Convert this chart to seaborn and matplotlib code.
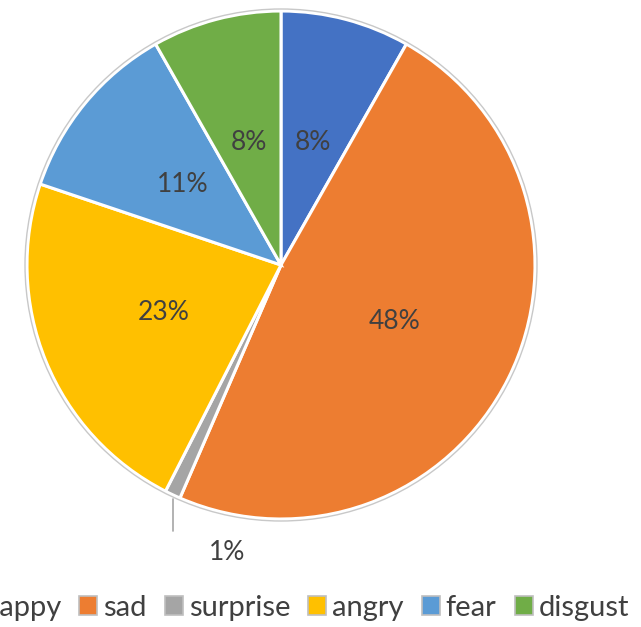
import matplotlib.pyplot as plt
import matplotlib.patches as mpatches
import seaborn as sns
import numpy as np

# emotion shares (percent)
emotions = ['happy', 'sad', 'surprise', 'angry', 'fear', 'disgust']
shares = [8.2, 48.2, 1.0, 22.6, 11.6, 8.2]
pct_labels = ['8%', '48%', '1%', '23%', '11%', '8%']
colors = ['#4472C4', '#ED7D31', '#A5A5A5', '#FFC000', '#5B9BD5', '#70AD47']

sns.set_theme(style='white')
plt.rcParams['font.family'] = ['Lato', 'DejaVu Sans']
text_color = '#404040'

W, H = 641, 627
fig = plt.figure(figsize=(W / 100, H / 100), dpi=100)
ax = fig.add_axes([0, 0, 1, 1])

cx, cy, R = 281, H - 265, 254
palette = sns.color_palette(colors)

wedges, _ = ax.pie(shares, colors=palette, startangle=90, counterclock=False,
                   center=(cx, cy), radius=R,
                   wedgeprops=dict(edgecolor='white', linewidth=2.2))
ax.set_xlim(0, W)
ax.set_ylim(0, H)
ax.set_aspect('equal')
ax.axis('off')

# thin grey outline round the pie
ax.add_patch(mpatches.Circle((cx, cy), R + 2, fill=False, edgecolor='#C8C8C8', linewidth=1))

# percentage labels
for w, lab in zip(wedges, pct_labels):
    mid = np.deg2rad((w.theta1 + w.theta2) / 2)
    if lab == '1%':
        x0 = cx + R * np.cos(mid)
        y0 = cy + R * np.sin(mid)
        ax.plot([x0, x0], [y0 - 4, y0 - 36], color='#A5A5A5', lw=1.2)
        ax.text(x0 + 54, y0 - 58, lab, ha='center', va='center', fontsize=19, color=text_color)
    else:
        ax.text(cx + 0.5 * R * np.cos(mid), cy + 0.5 * R * np.sin(mid), lab,
                ha='center', va='center', fontsize=19, color=text_color)

handles = [mpatches.Patch(facecolor=c, edgecolor='#BFBFBF', linewidth=1.2) for c in colors]
leg = ax.legend(handles, emotions, ncol=6, loc='center right', bbox_to_anchor=(629 / W, 19 / H),
                frameon=False, fontsize=21, handlelength=0.62, handleheight=0.62,
                handletextpad=0.2, columnspacing=0.62, borderaxespad=0, borderpad=0)
for t in leg.get_texts():
    t.set_color(text_color)

plt.savefig('out.png', dpi=100)
